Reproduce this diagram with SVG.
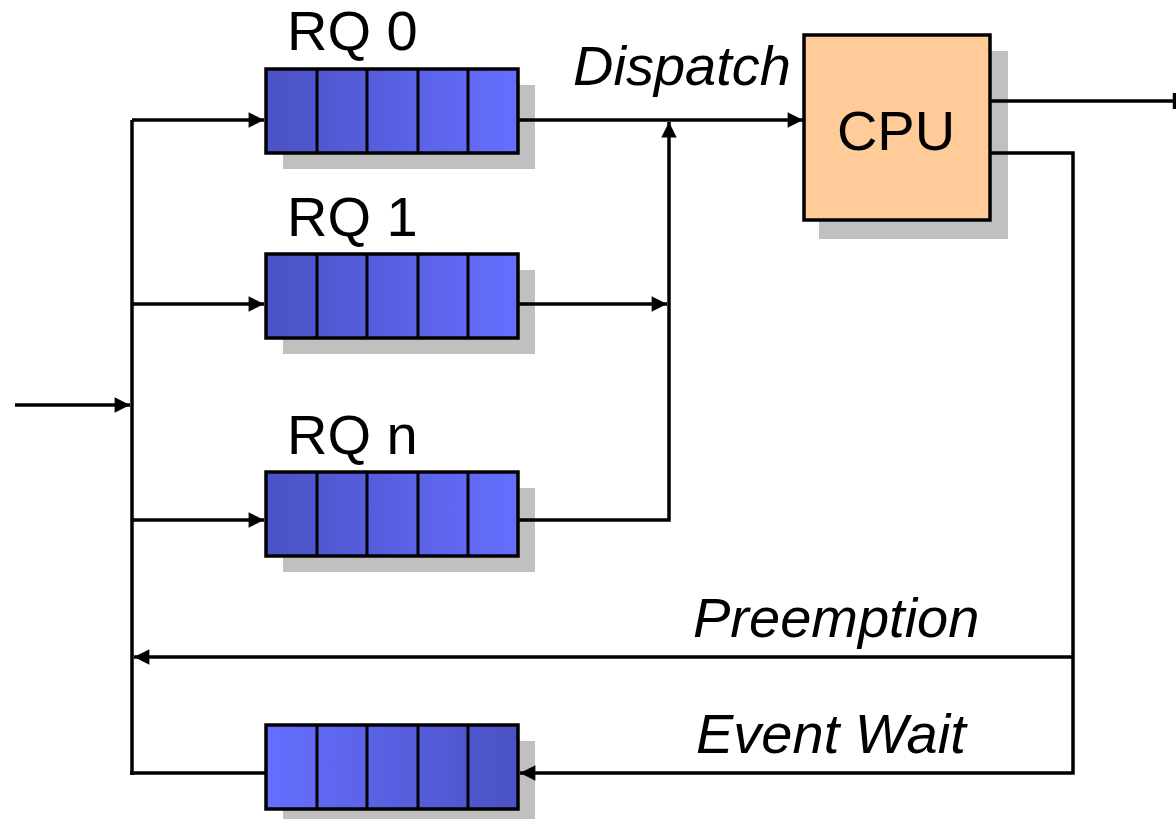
<svg xmlns="http://www.w3.org/2000/svg" width="1176" height="819" viewBox="0 0 1176 819">
<style>
.q{stroke:#000;stroke-width:3.5;}
.div{stroke:#000;stroke-width:3;}
.sh{fill:#c0c0c0;}
.ln{fill:none;stroke:#000;stroke-width:3.5;}
.lbl{font-family:"Liberation Sans",Arial,sans-serif;font-size:56px;fill:#000;}
.it{font-family:"Liberation Sans",Arial,sans-serif;font-size:56px;font-style:italic;fill:#000;}
</style>
<defs>
<linearGradient id="gq" x1="0" y1="0" x2="1" y2="0">
<stop offset="0" stop-color="#4a52c4"/>
<stop offset="1" stop-color="#666eff"/>
</linearGradient>
<linearGradient id="gqr" x1="0" y1="0" x2="1" y2="0">
<stop offset="0" stop-color="#666eff"/>
<stop offset="1" stop-color="#4a52c4"/>
</linearGradient>
<marker id="ah" viewBox="0 0 10 10" refX="10" refY="5" markerWidth="5" markerHeight="4.4" markerUnits="strokeWidth" orient="auto">
<path d="M0,0 L10,5 L0,10 z" fill="#000"/>
</marker>
</defs>
<g id="rq0">
<rect class="sh" x="283" y="85" width="252" height="84"/>
<rect class="q" x="266" y="69" width="252" height="84" fill="url(#gq)"/>
<line class="div" x1="317" y1="69" x2="317" y2="153"/>
<line class="div" x1="367" y1="69" x2="367" y2="153"/>
<line class="div" x1="418" y1="69" x2="418" y2="153"/>
<line class="div" x1="468" y1="69" x2="468" y2="153"/>
<text class="lbl" x="287" y="50">RQ 0</text>
</g>
<g id="rq1">
<rect class="sh" x="283" y="270" width="252" height="84"/>
<rect class="q" x="266" y="254" width="252" height="84" fill="url(#gq)"/>
<line class="div" x1="317" y1="254" x2="317" y2="338"/>
<line class="div" x1="367" y1="254" x2="367" y2="338"/>
<line class="div" x1="418" y1="254" x2="418" y2="338"/>
<line class="div" x1="468" y1="254" x2="468" y2="338"/>
<text class="lbl" x="287" y="236">RQ 1</text>
</g>
<g id="rqn">
<rect class="sh" x="283" y="488" width="252" height="84"/>
<rect class="q" x="266" y="472" width="252" height="84" fill="url(#gq)"/>
<line class="div" x1="317" y1="472" x2="317" y2="556"/>
<line class="div" x1="367" y1="472" x2="367" y2="556"/>
<line class="div" x1="418" y1="472" x2="418" y2="556"/>
<line class="div" x1="468" y1="472" x2="468" y2="556"/>
<text class="lbl" x="287" y="454">RQ n</text>
</g>
<g id="waitq">
<rect class="sh" x="283" y="741" width="252" height="78"/>
<rect class="q" x="266" y="725" width="252" height="84" fill="url(#gqr)"/>
<line class="div" x1="317" y1="725" x2="317" y2="809"/>
<line class="div" x1="367" y1="725" x2="367" y2="809"/>
<line class="div" x1="418" y1="725" x2="418" y2="809"/>
<line class="div" x1="468" y1="725" x2="468" y2="809"/>
</g>
<g id="cpu">
<rect class="sh" x="819" y="51" width="189" height="188"/>
<rect class="q" x="804" y="35" width="186" height="185" fill="#ffcc99"/>
<text class="lbl" x="896" y="150" text-anchor="middle">CPU</text>
</g>
<g id="connectors">
<line class="ln" x1="132" y1="120" x2="132" y2="775"/>
<line class="ln" x1="15" y1="405" x2="130" y2="405" marker-end="url(#ah)"/>
<line class="ln" x1="132" y1="120" x2="264" y2="120" marker-end="url(#ah)"/>
<line class="ln" x1="132" y1="304" x2="264" y2="304" marker-end="url(#ah)"/>
<line class="ln" x1="132" y1="520" x2="264" y2="520" marker-end="url(#ah)"/>
<line class="ln" x1="518" y1="120" x2="803" y2="120" marker-end="url(#ah)"/>
<polyline class="ln" points="518,520 669,520 669,304"/>
<line class="ln" x1="669" y1="304" x2="669" y2="122" marker-end="url(#ah)"/>
<line class="ln" x1="518" y1="304" x2="667" y2="304" marker-end="url(#ah)"/>
<line class="ln" x1="990" y1="101" x2="1176" y2="101"/>
<line class="ln" x1="1174.5" y1="93" x2="1174.5" y2="109"/>
<polyline class="ln" points="990,153 1073,153 1073,773 540,773"/>
<line class="ln" x1="540" y1="773" x2="520" y2="773" marker-end="url(#ah)"/>
<line class="ln" x1="1073" y1="657" x2="134" y2="657" marker-end="url(#ah)"/>
<line class="ln" x1="266" y1="773" x2="130" y2="773"/>
</g>
<g id="labels">
<text class="it" x="573" y="85">Dispatch</text>
<text class="it" x="693" y="637">Preemption</text>
<text class="it" x="696" y="753">Event Wait</text>
</g>
</svg>
